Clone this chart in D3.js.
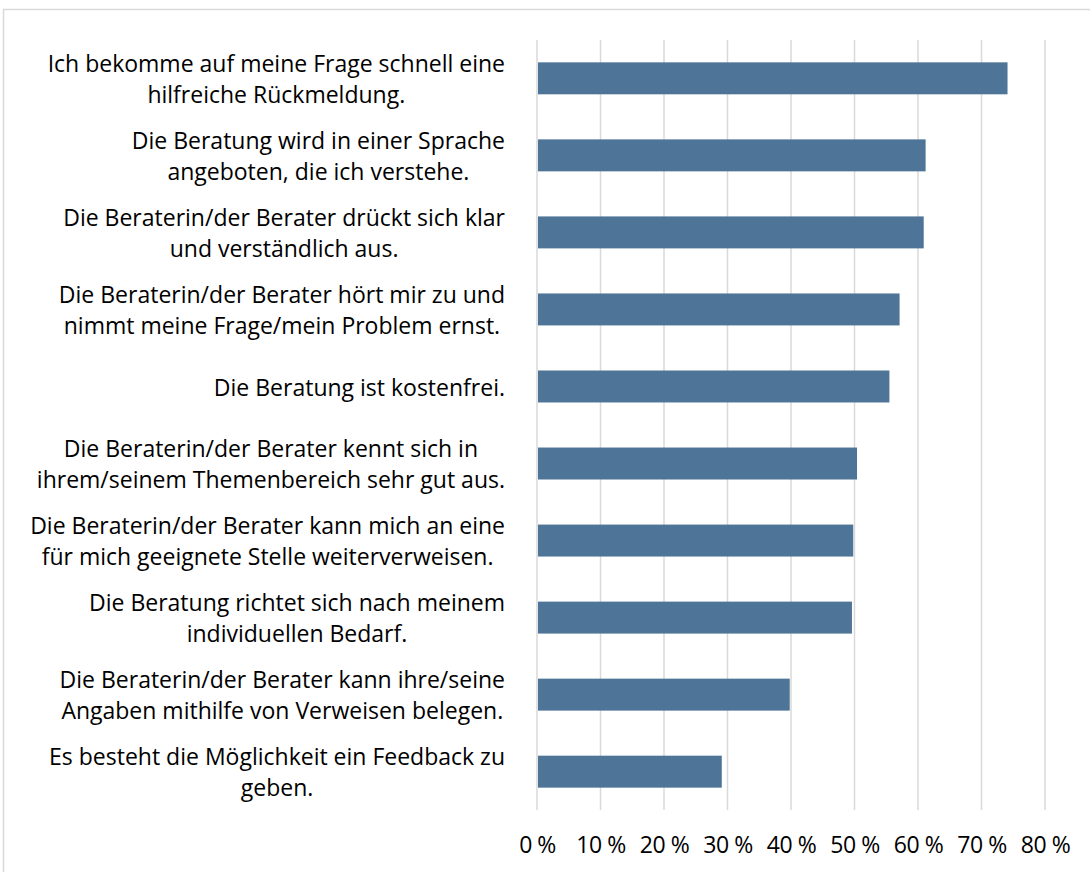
<!DOCTYPE html>
<html><head><meta charset="utf-8">
<script src="https://cdn.jsdelivr.net/npm/d3@7"></script>
<style>html,body{margin:0;padding:0;background:#fff;}svg{display:block;}</style>
</head><body>
<script>
const categories = [
  ["Ich bekomme auf meine Frage schnell eine", "hilfreiche Rückmeldung."],
  ["Die Beratung wird in einer Sprache", "angeboten, die ich verstehe."],
  ["Die Beraterin/der Berater drückt sich klar", "und verständlich aus."],
  ["Die Beraterin/der Berater hört mir zu und", "nimmt meine Frage/mein Problem ernst."],
  ["Die Beratung ist kostenfrei."],
  ["Die Beraterin/der Berater kennt sich in", "ihrem/seinem Themenbereich sehr gut aus."],
  ["Die Beraterin/der Berater kann mich an eine", "für mich geeignete Stelle weiterverweisen."],
  ["Die Beratung richtet sich nach meinem", "individuellen Bedarf."],
  ["Die Beraterin/der Berater kann ihre/seine", "Angaben mithilfe von Verweisen belegen."],
  ["Es besteht die Möglichkeit ein Feedback zu", "geben."]
];
const values = [74.1, 61.2, 60.9, 57.1, 55.5, 50.4, 49.8, 49.6, 39.8, 29.1];
const tickValues = [0, 10, 20, 30, 40, 50, 60, 70, 80];
const tickLabels = ["0 %", "10 %", "20 %", "30 %", "40 %", "50 %", "60 %", "70 %", "80 %"];

const W = 1090, H = 872;
const FONT = "'Open Sans', 'Noto Sans', sans-serif";
const FS = 23;
const svg = d3.select("body").append("svg").attr("width", W).attr("height", H);

svg.append("rect").attr("x", 3.5).attr("y", 9.5).attr("width", W + 10).attr("height", H + 10)
  .attr("fill", "#fff").attr("stroke", "#d9d9d9").attr("stroke-width", 1.5);

const x = d3.scaleLinear().domain([0, 80]).range([537, 1045]);
const ids = categories.map((d, i) => i);
const y = d3.scaleBand().domain(ids).range([40, 810]).paddingInner(0.585).paddingOuter(0.29);

// gridlines
svg.append("g").selectAll("line").data(tickValues).join("line")
  .attr("x1", d => x(d)).attr("x2", d => x(d)).attr("y1", 40).attr("y2", 810)
  .attr("stroke", "#d9d9d9").attr("stroke-width", 1.5);

// bars
svg.append("g").selectAll("rect").data(values).join("rect")
  .attr("x", x(0) + 1).attr("y", (d, i) => y(i))
  .attr("width", d => x(d) - x(0) - 1).attr("height", y.bandwidth())
  .attr("fill", "#4e7597");

// x axis tick labels
const xAxis = d3.axisBottom(x).tickValues(tickValues).tickFormat((d, i) => tickLabels[i]).tickSize(0).tickPadding(0);
const gx = svg.append("g").attr("transform", "translate(0,838)").call(xAxis);
gx.select(".domain").remove();
gx.selectAll("text").attr("font-family", FONT).attr("font-size", FS).attr("fill", "#000")
  .attr("dy", "0.35em").attr("y", 7).attr("letter-spacing", -0.5);

// category labels
const lineH = 31;
const labelRight = 505;
const gl = svg.append("g");
categories.forEach((lines, i) => {
  const cy = y(i) + y.bandwidth() / 2 + 1;
  const texts = lines.map((t, j) => gl.append("text")
    .attr("font-family", FONT).attr("font-size", FS).attr("fill", "#000")
    .attr("text-anchor", "middle").attr("dy", "0.35em")
    .attr("y", cy + (j - (lines.length - 1) / 2) * lineH).text(t));
  const maxW = d3.max(texts, t => t.node().getComputedTextLength());
  texts.forEach(t => t.attr("x", labelRight - maxW / 2));
});
</script>
</body></html>
